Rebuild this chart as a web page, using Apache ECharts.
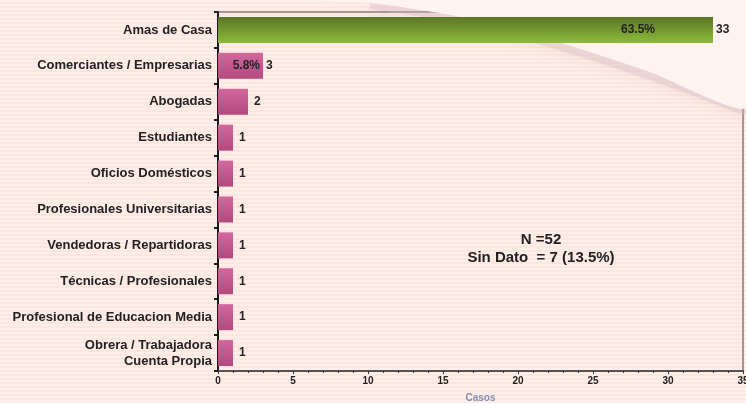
<!DOCTYPE html>
<html>
<head>
<meta charset="utf-8">
<script src="https://cdn.jsdelivr.net/npm/echarts@6/dist/echarts.min.js"></script>
<style>
  html, body { margin: 0; padding: 0; }
  #main { width: 746px; height: 403px; }
</style>
</head>
<body>
<div id="main"></div>
<script>
// datos del grafico
var categorias = ['Amas de Casa', 'Comerciantes / Empresarias', 'Abogadas', 'Estudiantes',
  'Oficios Domésticos', 'Profesionales Universitarias', 'Vendedoras / Repartidoras',
  'Técnicas / Profesionales', 'Profesional de Educacion Media', 'Obrera / Trabajadora\nCuenta Propia'];
var casos = [33, 3, 2, 1, 1, 1, 1, 1, 1, 1];
var porcentajes = ['63.5%', '5.8%', '', '', '', '', '', '', '', ''];
var xTicks = [0, 5, 10, 15, 20, 25, 30, 35];
var nota = ['N =52', 'Sin Dato  = 7 (13.5%)'];

var font = '"Liberation Sans", Arial, sans-serif';

// fondo rayado
var pat = document.createElement('canvas');
pat.width = 4; pat.height = 4;
var pc = pat.getContext('2d');
pc.fillStyle = '#fce6df'; pc.fillRect(0, 0, 4, 4);
pc.fillStyle = '#fdeee9'; pc.fillRect(0, 0, 4, 2);

var verde = new echarts.graphic.LinearGradient(0, 0, 0, 1, [
  { offset: 0, color: '#5a7526' }, { offset: 1, color: '#8dbb3a' }]);
var rosa = new echarts.graphic.LinearGradient(0, 0, 0, 1, [
  { offset: 0, color: '#d2689e' }, { offset: 1, color: '#b2487e' }]);

var barras = casos.map(function (v, i) {
  return { value: v, itemStyle: { color: i === 0 ? verde : rosa },
    label: { distance: porcentajes[i] ? 3 : 6 } };
});
var etiquetas = casos.map(function (v, i) {
  return { value: v, label: { distance: i === 0 ? 58 : 3 } };
});

var chart = echarts.init(document.getElementById('main'));
chart.setOption({
  backgroundColor: { image: pat, repeat: 'repeat' },
  animation: false,
  textStyle: { fontFamily: font },
  graphic: [
    {
      type: 'polyline', z: 0, silent: true,
      shape: { points: [[370, 5], [450, 18], [545, 42], [650, 76], [746, 112]], smooth: 0.4 },
      style: { stroke: 'rgba(215,180,190,0.35)', lineWidth: 8, shadowBlur: 10, shadowOffsetY: 3, shadowColor: 'rgba(200,160,175,0.45)' }
    },
    {
      type: 'polygon', z: 0, silent: true,
      shape: { points: [[290, 0], [746, 0], [746, 108], [650, 72], [545, 38], [450, 15], [370, 3]], smooth: 0.2 },
      style: { fill: '#fdf3f1' }
    },
    {
      type: 'text', x: 541, y: 231, z: 10,
      style: {
        text: nota.join('\n'), align: 'center', fill: '#222',
        font: 'bold 15px ' + font, lineHeight: 18
      }
    }
  ],
  grid: {
    left: 218, right: 3, top: 12, bottom: 32, outerBoundsMode: 'none',
    show: true, borderColor: '#444', borderWidth: 1, backgroundColor: 'transparent'
  },
  xAxis: {
    type: 'value', min: 0, max: 35, interval: 5,
    name: 'Casos', nameLocation: 'middle', nameGap: 22,
    nameTextStyle: { color: '#7f93b2', fontSize: 10, fontWeight: 'bold' },
    axisLine: { show: true, lineStyle: { color: '#5a5050', width: 2 } },
    axisTick: { show: true, length: 3, lineStyle: { color: '#333' } },
    minorTick: { show: true, splitNumber: 5, length: 2, lineStyle: { color: '#333' } },
    splitLine: { show: false },
    axisLabel: { color: '#222', fontSize: 10, fontWeight: 'bold', margin: 5,
      formatter: function (v) { return xTicks.indexOf(v) >= 0 ? String(v) : ''; } }
  },
  yAxis: {
    type: 'category', data: categorias, inverse: true,
    axisLine: { show: true, lineStyle: { color: '#1a1a1a', width: 2 } },
    axisTick: { show: true, length: 4, lineStyle: { color: '#1a1a1a', width: 2 } },
    axisLabel: { color: '#222', fontSize: 13, fontWeight: 'bold', margin: 6, lineHeight: 16, align: 'right' }
  },
  series: [
    {
      type: 'bar', data: barras, barWidth: 26, z: 2,
      label: { show: true, position: 'right', color: '#222',
        fontSize: 12, fontWeight: 'bold' }
    },
    {
      type: 'bar', data: etiquetas, barWidth: 26, barGap: '-100%', z: 3,
      itemStyle: { color: 'transparent' },
      label: { show: true, position: 'insideRight', color: '#222', fontSize: 12, fontWeight: 'bold',
        formatter: function (p) { return porcentajes[p.dataIndex]; } }
    }
  ]
});
</script>
</body>
</html>
